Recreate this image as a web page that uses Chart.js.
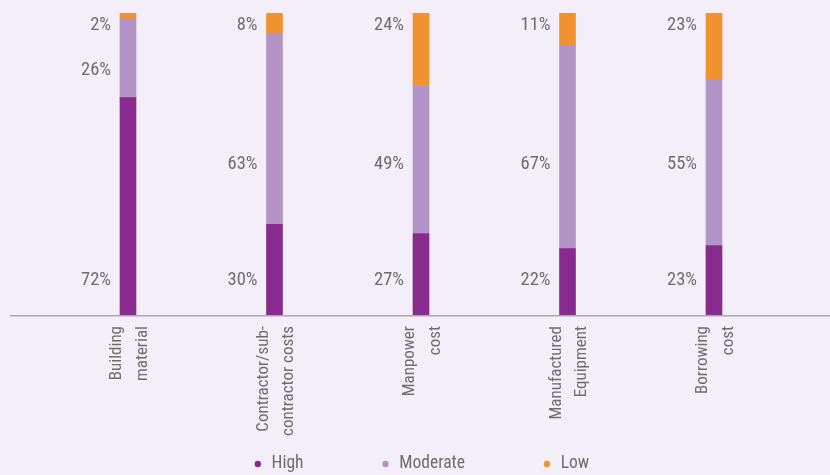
<!DOCTYPE html>
<html>
<head>
<meta charset="utf-8">
<script src="https://cdn.jsdelivr.net/npm/chart.js@4/dist/chart.umd.min.js"></script>
<style>
  html, body { margin: 0; padding: 0; background: #f3eef8; }
  #wrap { width: 830px; height: 475px; }
</style>
</head>
<body>
<div id="wrap"><canvas id="chart" width="830" height="475"></canvas></div>
<script>
// Share of respondents rating each cost driver's impact
const categories = [
  ['Building', 'material'],
  ['Contractor/sub-', 'contractor costs'],
  ['Manpower', 'cost'],
  ['Manufactured', 'Equipment'],
  ['Borrowing', 'cost']
];
const seriesNames = ['High', 'Moderate', 'Low'];
const high = [72, 30, 27, 22, 23];
const moderate = [26, 63, 49, 67, 55];
const low = [2, 8, 24, 11, 23];

const COLORS = { high: '#892b8e', moderate: '#b294c7', low: '#f2922f' };
const TEXT = '#6d6d6d';
const FONT_FAMILY = '"Roboto Condensed", "Liberation Sans Narrow", "DejaVu Sans Condensed", Roboto, sans-serif';
const VALUE_SIZE = 18.5;
const TICK_SIZE = 17;
const LEGEND_SIZE = 17.5;

const LEGEND_PAD = 77;
const LEGEND_TEXT_Y = 464;

// Page background
const backgroundPlugin = {
  id: 'pageBackground',
  beforeDraw(chart) {
    const { ctx, width, height } = chart;
    ctx.save();
    ctx.fillStyle = '#f3eef8';
    ctx.fillRect(0, 0, width, height);
    ctx.restore();
  }
};

// Baseline that runs across the full width under the bars
const baselinePlugin = {
  id: 'baseline',
  afterDatasetsDraw(chart) {
    const { ctx, chartArea, width } = chart;
    ctx.save();
    ctx.strokeStyle = '#aba7b1';
    ctx.lineWidth = 1.5;
    ctx.beginPath();
    ctx.moveTo(10, chartArea.bottom + 0.75);
    ctx.lineTo(width, chartArea.bottom + 0.75);
    ctx.stroke();
    ctx.restore();
  }
};

// Percentage labels to the left of each bar
const valueLabelPlugin = {
  id: 'valueLabels',
  afterDatasetsDraw(chart) {
    const { ctx } = chart;
    const y = chart.scales.y;
    ctx.save();
    ctx.font = VALUE_SIZE + 'px ' + FONT_FAMILY;
    ctx.fillStyle = TEXT;
    ctx.textAlign = 'right';
    ctx.textBaseline = 'middle';
    chart.data.datasets.forEach((ds, di) => {
      const meta = chart.getDatasetMeta(di);
      meta.data.forEach((bar, i) => {
        let at;
        if (di === 0) at = 11.5;                           // near the foot of the bar
        else if (di === 1) at = Math.max(50, high[i] + 9); // mid-height, kept inside its segment
        else at = 96;                                      // near the top of the bar
        const x = bar.x - bar.width / 2 - 9;
        ctx.fillText(ds.data[i] + '%', x, y.getPixelForValue(at));
      });
    });
    ctx.restore();
  }
};

// Place the legend row at its final height (box reaches the canvas foot so nothing is clipped)
const legendPlacePlugin = {
  id: 'legendPlace',
  afterLayout(chart) {
    const lg = chart.legend;
    if (!lg) return;
    lg.top = LEGEND_TEXT_Y - LEGEND_SIZE / 2 - LEGEND_PAD;
    lg.bottom = chart.height;
    lg.height = lg.bottom - lg.top;
  }
};

const chart = new Chart(document.getElementById('chart'), {
  type: 'bar',
  data: {
    labels: categories,
    datasets: [
      { label: seriesNames[0], data: high, backgroundColor: COLORS.high },
      { label: seriesNames[1], data: moderate, backgroundColor: COLORS.moderate },
      { label: seriesNames[2], data: low, backgroundColor: COLORS.low }
    ]
  },
  options: {
    responsive: false,
    animation: false,
    devicePixelRatio: 1,
    layout: { padding: { left: 54.75, right: 42.75, top: 13, bottom: 0 } },
    datasets: { bar: { barThickness: 16, clip: 0, borderWidth: 0 } },
    scales: {
      x: {
        stacked: true,
        grid: { display: false, drawTicks: false },
        border: { display: false },
        ticks: {
          color: TEXT,
          font: { family: FONT_FAMILY, size: TICK_SIZE, lineHeight: 1.5 },
          padding: 11,
          minRotation: 90,
          maxRotation: 90,
          labelOffset: -11,
          autoSkip: false
        },
        afterFit(scale) { scale.height = 130; }
      },
      y: {
        stacked: true,
        display: false,
        min: 0,
        max: 100
      }
    },
    plugins: {
      legend: {
        position: 'bottom',
        maxHeight: 30,
        labels: {
          usePointStyle: true,
          pointStyle: 'circle',
          boxWidth: 10,
          boxHeight: 4.5,
          padding: LEGEND_PAD,
          color: TEXT,
          font: { family: FONT_FAMILY, size: LEGEND_SIZE }
        }
      },
      tooltip: { enabled: false }
    }
  },
  plugins: [backgroundPlugin, baselinePlugin, valueLabelPlugin, legendPlacePlugin]
});
</script>
</body>
</html>
